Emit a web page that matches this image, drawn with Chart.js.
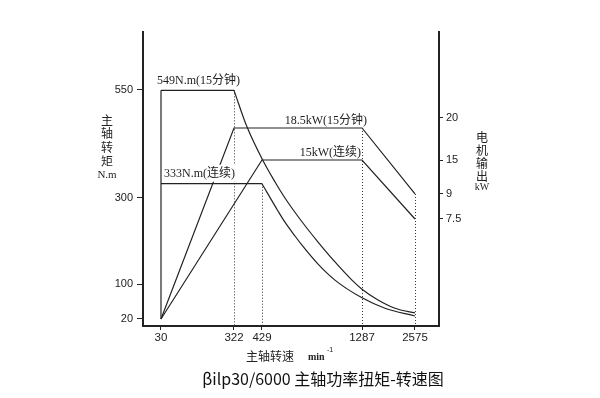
<!DOCTYPE html>
<html>
<head>
<meta charset="utf-8">
<script src="https://cdn.jsdelivr.net/npm/chart.js@4.4.1/dist/chart.umd.min.js"></script>
<style>
  html, body { margin: 0; padding: 0; background: #fff; }
  canvas { display: block; }
</style>
</head>
<body>
<canvas id="chart" width="600" height="398"></canvas>
<script>
// axis ticks
const speedTicks = [30, 322, 429, 1287, 2575];   // min^-1
const torqueTicks = [20, 100, 300, 550];        // N.m
const powerTicks = [7.5, 9, 15, 20];            // kW

// torque curves (N.m)
const startSpeed = [30, 30];
const startTorque = [20, 549];
const torque15Speed = [30, 322];
const torque15Value = [549, 549];
const torque15FallSpeed = [322, 372, 438, 541, 626, 772, 910, 1055, 1201, 1287, 1676, 2089, 2575];
const torque15FallValue = [549, 464, 386, 337, 300, 245, 198, 152, 110, 89, 64, 45, 34];
const torqueContSpeed = [30, 429];
const torqueContValue = [333, 333];
const torqueContFallSpeed = [429, 566, 626, 712, 772, 910, 1055, 1287, 1846, 2575];
const torqueContFallValue = [333, 270, 244, 212, 191, 147, 110, 69, 45, 27];

// power curves (kW)
const power15Speed = [30, 322, 1287, 2575];
const power15Value = [0, 18.5, 18.5, 9];
const powerContSpeed = [30, 429, 1287, 2575];
const powerContValue = [0, 15, 15, 7.5];

const ink = '#222';
const cjk = '"Noto Sans CJK SC", sans-serif';
const serifCjk = '"Liberation Serif", "Noto Sans CJK SC", serif';

// the drawing is schematic: values are placed between fixed anchor positions
class AnchorScale extends Chart.LinearScale {
  buildTicks() {
    return this.options.tickValues.map(v => ({ value: v }));
  }
  toDecimal(v) {
    const a = this.options.anchors, d = this.options.decimals;
    let i = 1;
    while (i < a.length - 1 && v > a[i]) i++;
    return d[i - 1] + (v - a[i - 1]) / (a[i] - a[i - 1]) * (d[i] - d[i - 1]);
  }
  getPixelForValue(v) {
    return this.getPixelForDecimal(this.toDecimal(v));
  }
  getValueForPixel(p) {
    const a = this.options.anchors, d = this.options.decimals;
    const dec = this.getDecimalForPixel(p);
    let i = 1;
    while (i < d.length - 1 && dec > d[i]) i++;
    return a[i - 1] + (dec - d[i - 1]) / (d[i] - d[i - 1]) * (a[i] - a[i - 1]);
  }
}
AnchorScale.id = 'anchored';
AnchorScale.defaults = {};
Chart.register(AnchorScale);

function line(xs, ys, axis, extra) {
  return Object.assign({
    data: xs.map((x, i) => ({ x, y: ys[i] })),
    yAxisID: axis,
    borderColor: ink,
    borderWidth: 1.2,
    pointRadius: 0,
    tension: 0,
    fill: false
  }, extra || {});
}

// dotted guides from a corner down to the speed axis
const guides = [
  [torque15Speed[1], torque15Value[1], 'y'],
  [torqueContSpeed[1], torqueContValue[1], 'y'],
  [power15Speed[2], power15Value[2], 'y1'],
  [power15Speed[3], power15Value[3], 'y1']
];

// curve labels: text, anchor speed, anchor value, axis, align, dx, dy, white backing
const curveLabels = [
  ['549N.m(15分钟)', startSpeed[0], torque15Value[0], 'y', 'left', -4, -10, false],
  ['333N.m(连续)', startSpeed[0], torqueContValue[0], 'y', 'left', 3, -10, true],
  ['18.5kW(15分钟)', power15Speed[2], power15Value[2], 'y1', 'right', 5, -7, false],
  ['15kW(连续)', powerContSpeed[2], powerContValue[2], 'y1', 'right', -1, -7, false]
];

const decorations = {
  id: 'decorations',
  beforeDatasetsDraw(chart) {
    const { ctx, chartArea, scales } = chart;
    ctx.save();
    ctx.strokeStyle = '#333';
    ctx.lineWidth = 1;
    ctx.setLineDash([1, 2]);
    guides.forEach(([sx, v, axis]) => {
      const px = Math.round(scales.x.getPixelForValue(sx)) + 0.5;
      ctx.beginPath();
      ctx.moveTo(px, scales[axis].getPixelForValue(v));
      ctx.lineTo(px, chartArea.bottom);
      ctx.stroke();
    });
    ctx.restore();
  },
  afterDatasetsDraw(chart) {
    const { ctx, scales } = chart;
    ctx.save();
    ctx.font = '12px ' + serifCjk;
    ctx.textBaseline = 'middle';
    curveLabels.forEach(([text, sx, v, axis, align, dx, dy, back]) => {
      const x = scales.x.getPixelForValue(sx) + dx;
      const y = scales[axis].getPixelForValue(v) + dy;
      const w = ctx.measureText(text).width;
      const left = align === 'left' ? x : x - w;
      if (back) {
        ctx.fillStyle = '#fff';
        ctx.fillRect(left - 1, y - 9, w + 2, 17);
      }
      ctx.fillStyle = ink;
      ctx.textAlign = 'left';
      ctx.fillText(text, left, y);
    });
    ctx.restore();
  },
  afterDraw(chart) {
    const { ctx } = chart;
    ctx.save();
    ctx.fillStyle = ink;
    ctx.textAlign = 'center';
    ctx.textBaseline = 'middle';

    // left axis title, stacked
    ctx.font = '12px ' + cjk;
    ['主', '轴', '转', '矩'].forEach((c, i) => ctx.fillText(c, 107, 120 + i * 13.8));
    ctx.font = '11px ' + serifCjk;
    ctx.fillText('N.m', 107, 175);

    // right axis title, stacked
    ctx.font = '12px ' + cjk;
    ['电', '机', '输', '出'].forEach((c, i) => ctx.fillText(c, 482, 137 + i * 13.3));
    ctx.font = '10px ' + serifCjk;
    ctx.fillText('kW', 482, 187);

    // speed axis title
    ctx.textAlign = 'left';
    ctx.font = '12px ' + cjk;
    ctx.fillText('主轴转速', 246, 356);
    ctx.font = 'bold 10px "Liberation Serif", serif';
    ctx.fillText('min', 308, 357);
    ctx.font = '7px "Liberation Sans", sans-serif';
    ctx.fillText('-1', 327, 350);

    // caption
    ctx.textAlign = 'center';
    ctx.font = '16px ' + cjk;
    ctx.fillStyle = '#111';
    ctx.fillText('βilp30/6000 主轴功率扭矩-转速图', 323, 379);
    ctx.restore();
  }
};

const axisBorder = { display: true, color: ink, width: 2 };

new Chart(document.getElementById('chart'), {
  type: 'line',
  data: {
    datasets: [
      line(startSpeed, startTorque, 'y'),
      line(torque15Speed, torque15Value, 'y'),
      line(torque15FallSpeed, torque15FallValue, 'y', { cubicInterpolationMode: 'monotone' }),
      line(torqueContSpeed, torqueContValue, 'y'),
      line(torqueContFallSpeed, torqueContFallValue, 'y', { cubicInterpolationMode: 'monotone' }),
      line(power15Speed, power15Value, 'y1'),
      line(powerContSpeed, powerContValue, 'y1')
    ]
  },
  options: {
    responsive: false,
    animation: false,
    layout: { padding: { top: 32, left: 0, right: 0, bottom: 0 } },
    plugins: { legend: { display: false }, tooltip: { enabled: false } },
    scales: {
      x: {
        type: 'anchored',
        anchors: speedTicks,
        decimals: [0.0608, 0.3074, 0.402, 0.7399, 0.9189],
        tickValues: speedTicks,
        grid: { drawOnChartArea: false, drawTicks: true, tickLength: 4, color: ink },
        border: axisBorder,
        ticks: {
          autoSkip: false, maxRotation: 0, padding: 1, color: ink,
          font: { family: 'Liberation Sans', size: 11.5 },
          callback: v => String(v)
        },
        afterFit: s => { s.height = 72; }
      },
      y: {
        type: 'linear',
        position: 'left',
        min: 3.8,
        max: 684,
        afterBuildTicks: s => { s.ticks = torqueTicks.map(v => ({ value: v })); },
        grid: { drawOnChartArea: false, drawTicks: true, tickLength: 6, color: ink },
        border: axisBorder,
        ticks: {
          padding: 4, color: ink,
          font: { family: 'Liberation Sans', size: 11 },
          callback: v => String(v)
        },
        afterFit: s => { s.width = 143; }
      },
      y1: {
        type: 'anchored',
        position: 'right',
        anchors: [0, 7.5, 9, 15, 18.5, 20],
        decimals: [0.0238, 0.364, 0.449, 0.5646, 0.6735, 0.7075],
        tickValues: powerTicks,
        grid: { drawOnChartArea: false, drawTicks: true, tickLength: 4, color: ink },
        border: axisBorder,
        ticks: {
          padding: 3, color: ink,
          font: { family: 'Liberation Sans', size: 11 },
          callback: v => String(v)
        },
        afterFit: s => { s.width = 161; }
      }
    }
  },
  plugins: [decorations]
});
</script>
</body>
</html>
